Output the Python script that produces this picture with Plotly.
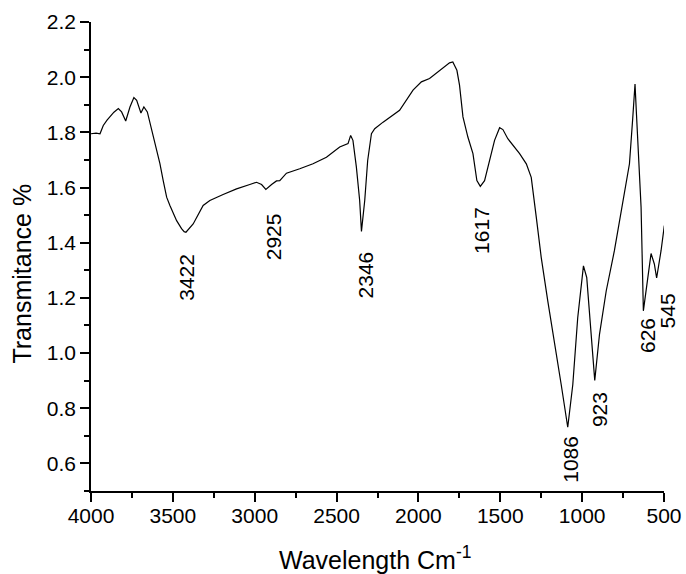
import plotly.graph_objects as go

# FTIR spectrum
wavenumber = [4000, 3969, 3945, 3925, 3902, 3884, 3860, 3833, 3813, 3788, 3762, 3738, 3721,
              3695, 3677, 3656, 3640, 3620, 3599, 3579, 3559, 3538, 3518, 3477, 3447, 3431,
              3420, 3376, 3315, 3274, 3193, 3111, 3030, 2989, 2958, 2932, 2897, 2867, 2847,
              2806, 2725, 2644, 2562, 2481, 2430, 2414, 2400, 2379, 2359, 2348, 2328, 2310,
              2287, 2267, 2216, 2155, 2115, 2033, 1982, 1932, 1871, 1810, 1790, 1765, 1749,
              1728, 1698, 1667, 1643, 1622, 1596, 1565, 1535, 1504, 1484, 1454, 1413, 1382,
              1341, 1311, 1280, 1250, 1210, 1169, 1128, 1088, 1057, 1027, 992, 972, 951, 923,
              894, 853, 803, 752, 711, 691, 677, 668, 660, 640, 626, 600, 579, 559, 545, 518, 498]
transmittance = [1.795, 1.797, 1.795, 1.825, 1.844, 1.856, 1.873, 1.886, 1.874, 1.841, 1.892, 1.926, 1.916,
                 1.870, 1.892, 1.874, 1.837, 1.783, 1.735, 1.687, 1.625, 1.565, 1.535, 1.480, 1.451, 1.440,
                 1.438, 1.468, 1.535, 1.553, 1.575, 1.595, 1.611, 1.619, 1.611, 1.593, 1.611, 1.624, 1.625,
                 1.652, 1.668, 1.686, 1.710, 1.747, 1.759, 1.789, 1.771, 1.674, 1.553, 1.441, 1.553, 1.698,
                 1.795, 1.813, 1.837, 1.862, 1.880, 1.953, 1.983, 1.995, 2.025, 2.052, 2.055, 2.025, 1.971,
                 1.856, 1.783, 1.723, 1.625, 1.604, 1.625, 1.698, 1.771, 1.817, 1.810, 1.777, 1.747, 1.723,
                 1.686, 1.637, 1.492, 1.347, 1.189, 1.044, 0.886, 0.731, 0.886, 1.128, 1.316, 1.274, 1.128, 0.901,
                 1.068, 1.225, 1.371, 1.541, 1.686, 1.851, 1.975, 1.864, 1.771, 1.528, 1.153, 1.262, 1.361, 1.323, 1.272, 1.371, 1.462]

peak_labels = ["3422", "2925", "2346", "1617", "1086", "923", "626", "545"]
peak_label_x = [3416, 2888, 2322, 1614, 1071, 894, 600, 545]
peak_label_y = [1.275, 1.42, 1.284, 1.445, 0.615, 0.795, 1.064, 1.153]
peak_label_shift = [0, 0, 0, 0, 0, 0, 0, 11]

x_ticks = [4000, 3500, 3000, 2500, 2000, 1500, 1000, 500]
y_ticks = [0.6, 0.8, 1.0, 1.2, 1.4, 1.6, 1.8, 2.0, 2.2]

FONT = "Liberation Sans, Arial, sans-serif"

fig = go.Figure()
fig.add_trace(go.Scatter(x=wavenumber, y=transmittance, mode="lines",
                         line=dict(color="black", width=1.2), showlegend=False))

for lab, lx, ly, sh in zip(peak_labels, peak_label_x, peak_label_y, peak_label_shift):
    fig.add_annotation(x=lx, y=ly, xref="x", yref="y", text=lab, showarrow=False,
                       textangle=-90, xanchor="center", yanchor="middle", xshift=sh,
                       font=dict(family=FONT, size=21, color="black"))

# axis titles placed as paper annotations to match the reference position
fig.add_annotation(x=-0.1203, y=0.4638, xref="paper", yref="paper", text="Transmitance %",
                   showarrow=False, textangle=-90, xanchor="center", yanchor="middle",
                   font=dict(family=FONT, size=25, color="black"))
fig.add_annotation(x=0.495, y=-0.1429, xref="paper", yref="paper", text="Wavelength Cm<sup>-1</sup>",
                   showarrow=False, xanchor="center", yanchor="middle",
                   font=dict(family=FONT, size=25, color="black"))

axis_common = dict(showline=True, linecolor="black", linewidth=1.5, mirror=False,
                   ticks="outside", ticklen=9, tickwidth=1.5, tickcolor="black",
                   showgrid=False, zeroline=False, automargin=False,
                   tickfont=dict(family=FONT, size=21, color="black"))

fig.update_xaxes(range=[4000, 500], tickmode="array", tickvals=x_ticks,
                 ticktext=[str(v) for v in x_ticks], ticklabelstandoff=-4,
                 minor=dict(ticks="outside", ticklen=5, tickwidth=1.5, tickcolor="black", dtick=250, tick0=500),
                 **axis_common)
fig.update_yaxes(range=[0.5, 2.2], tickmode="array", tickvals=y_ticks,
                 ticktext=[f"{v:.1f}" for v in y_ticks],
                 minor=dict(ticks="outside", ticklen=5, tickwidth=1.5, tickcolor="black", dtick=0.1, tick0=0.5),
                 **axis_common)

fig.update_layout(width=686, height=574, autosize=False, margin=dict(l=91, r=22, t=22, b=83),
                  plot_bgcolor="white", paper_bgcolor="white")

fig.write_html("out.html")
